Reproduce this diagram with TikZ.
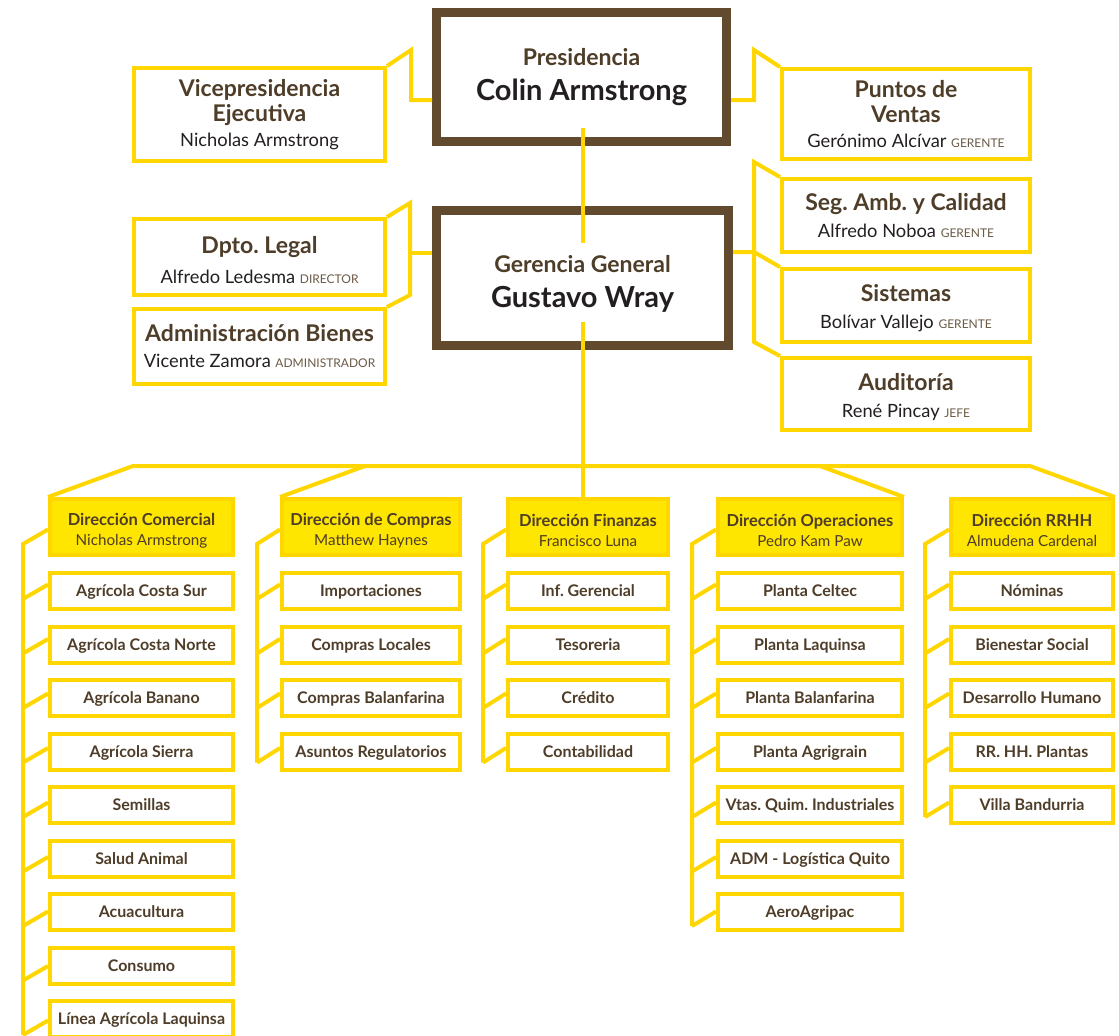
\documentclass[tikz,border=0pt]{standalone}
\usepackage{fontspec}
\setmainfont{Lato}
\usetikzlibrary{calc}
\definecolor{ybrd}{HTML}{FFD600}
\definecolor{yfill}{HTML}{FFE600}
\definecolor{bbrd}{HTML}{614A2E}
\definecolor{ttl}{HTML}{4E3D28}
\definecolor{rolec}{HTML}{6B5B47}
\definecolor{nm}{HTML}{231F20}
\newcommand\rolex[1]{{\fontsize{12}{12}\selectfont\color{rolec}#1}}
\newcommand\nmx[1]{{\fontsize{18.3}{20}\selectfont\color{nm}#1}}
\newcommand\hdx[1]{{\fontsize{16.5}{20}\selectfont\bfseries\rule{0pt}{19pt}#1}}
\newcommand\mkcolumn[7]{% name, cx, width, vx, last index, header text, list
  \node[hbox, minimum width=#3pt] (#1-h) at (#2,527) {#6};
  \foreach \t [count=\i from 0] in {#7} {
    \node[sbox, minimum width=#3pt] (#1-\i) at (#2,{591+53.5*\i}) {\t};
    \coordinate (#1-v\i) at (#4,{591+53.5*\i-6.5+\i+14.5});
    \draw[conn] ($(#1-\i.west)+(0,{-6.5+\i})$) -- (#1-v\i);
  }
  \coordinate (#1-vh) at (#4,544);
  \draw[conn] ($(#1-h.west)+(0,2.5)$) -- (#1-vh) -- (#1-v#5);
}
\begin{document}
\frenchspacing
\begin{tikzpicture}[x=1pt,y=-1pt,
  ybox/.style={draw=ybrd, line width=4pt, fill=white, align=center, inner sep=0pt, text=ttl},
  bbox/.style={draw=bbrd, line width=9pt, fill=white, align=center, inner sep=0pt, text=nm},
  hbox/.style={draw=ybrd, line width=4pt, fill=yfill, align=center, inner sep=0pt, minimum height=56pt, text=ttl, font=\fontsize{15.2}{20}\selectfont},
  sbox/.style={draw=ybrd, line width=4pt, fill=white, align=center, inner sep=0pt, minimum height=36pt, text=ttl, font=\fontsize{16}{18}\selectfont\bfseries, text height=11pt, text depth=0pt},
  conn/.style={draw=ybrd, line width=4pt},
  ttlfont/.style={font=\fontsize{23}{#1}\selectfont\bfseries},
]
\useasboundingbox (0,0) rectangle (1119,1036);
\clip (0,0) rectangle (1119,1036);

% top level
\node[bbox, minimum width=290pt, minimum height=129pt, font=\fontsize{23}{35}\selectfont] (pres) at (581.5,77)
  {{\bfseries\color{ttl}Presidencia}\\{\fontsize{29}{30}\selectfont\bfseries Colin Armstrong}};
\node[bbox, minimum width=292pt, minimum height=135pt, font=\fontsize{23}{35}\selectfont, text depth=-12pt] (ger) at (582.5,278)
  {{\bfseries\color{ttl}\rule{0pt}{24pt}Gerencia General}\\{\fontsize{29}{30}\selectfont\bfseries Gustavo Wray}};

\node[ybox, minimum width=251pt, minimum height=93pt, ttlfont=25] (vice) at (259.5,114.5)
  {Vicepresidencia\\Ejecutiva\\\nmx{\mdseries Nicholas Armstrong}};
\node[ybox, minimum width=248pt, minimum height=90pt, ttlfont=25] (ptos) at (906,114)
  {Puntos de\\Ventas\\\nmx{\mdseries Gerónimo Alcívar \rolex{GERENTE}}};
\node[ybox, minimum width=248pt, minimum height=73pt, ttlfont=27] (seg) at (906,215.5)
  {Seg. Amb. y Calidad\\\nmx{\mdseries Alfredo Noboa \rolex{GERENTE}}};
\node[ybox, minimum width=248pt, minimum height=73pt, ttlfont=27, text depth=-9pt] (sis) at (906,305.5)
  {\rule{0pt}{19pt}Sistemas\\\nmx{\mdseries Bolívar Vallejo \rolex{GERENTE}}};
\node[ybox, minimum width=248pt, minimum height=72pt, ttlfont=27, text depth=-10pt] (aud) at (906,394)
  {\rule{0pt}{19pt}Auditoría\\\nmx{\mdseries René Pincay \rolex{JEFE}}};
\node[ybox, minimum width=251pt, minimum height=76pt, ttlfont=30, text depth=-9pt] (legal) at (259.5,257)
  {\rule{0pt}{23.5pt}Dpto. Legal\\\nmx{\mdseries Alfredo Ledesma \rolex{DIRECTOR}}};
\node[ybox, minimum width=251pt, minimum height=75pt, ttlfont=26] (admin) at (259.5,346.5)
  {Administración Bienes\\\nmx{\mdseries Vicente Zamora \rolex{ADMINISTRADOR}}};

% connectors top
\coordinate (vk1) at (411,50);
\coordinate (vk2) at (411,100);
\draw[conn] (vice.north east) -- (vk1) -- (vk2) -- (vk2 -| pres.west);
\coordinate (pk1) at (754,100);
\coordinate (pk2) at (754,50);
\draw[conn] (pk1 -| pres.east) -- (pk1) -- (pk2) -- (ptos.north west);

\coordinate (rk1) at (754,162);
\coordinate (rk2) at (754,252);
\coordinate (rk3) at (754,342);
\draw[conn] (seg.north west) -- (rk1) -- (rk3) -- (aud.north west);
\draw[conn] (rk2 -| ger.east) -- (rk2) -- (sis.north west);

\coordinate (lk1) at (410,203);
\coordinate (lk2) at (410,253);
\coordinate (lk3) at (410,295);
\draw[conn] (legal.north east) -- (lk1) -- (lk3) -- (admin.north east);
\draw[conn] (lk2) -- (lk2 -| ger.west);

\coordinate (p1) at (583,128);
\coordinate (g1) at (583,243);
\draw[conn] (p1) -- (g1);

% columns
\mkcolumn{c1}{141.5}{183}{23}{8}{\hdx{Dirección Comercial}\\Nicholas Armstrong}
  {Agrícola Costa Sur,Agrícola Costa Norte,Agrícola Banano,Agrícola Sierra,Semillas,Salud Animal,Acuacultura,Consumo,Línea Agrícola Laquinsa}
\mkcolumn{c2}{371}{178}{257}{3}{\hdx{Dirección de Compras}\\Matthew Haynes}
  {Importaciones,Compras Locales,Compras Balanfarina,Asuntos Regulatorios}
\mkcolumn{c3}{588}{160}{483}{3}{\hdx{Dirección Finanzas}\\Francisco Luna}
  {Inf. Gerencial,Tesoreria,Crédito,Contabilidad}
\mkcolumn{c4}{810}{184}{692}{6}{\hdx{Dirección Operaciones}\\Pedro Kam Paw}
  {Planta Celtec,Planta Laquinsa,Planta Balanfarina,Planta Agrigrain,Vtas. Quim. Industriales,ADM - Logística Quito,AeroAgripac}
\mkcolumn{c5}{1032}{162}{925}{4}{\hdx{Dirección RRHH}\\Almudena Cardenal}
  {Nóminas,Bienestar Social,Desarrollo Humano,RR. HH. Plantas,Villa Bandurria}

% bus
\coordinate (bL) at (133,466);
\coordinate (bR) at (1030,466);
\coordinate (b2) at (365,466);
\coordinate (b3) at (583,466);
\coordinate (b4) at (820,466);
\coordinate (g3) at (583,322);
\draw[conn] (c1-h.north west) -- (bL) -- (bR) -- (c5-h.north east);
\draw[conn] (b2) -- (c2-h.north west);
\draw[conn] (b4) -- (c4-h.north east);
\draw[conn] (g3) -- (b3) -- (b3 |- c3-h.north);
\end{tikzpicture}
\end{document}
